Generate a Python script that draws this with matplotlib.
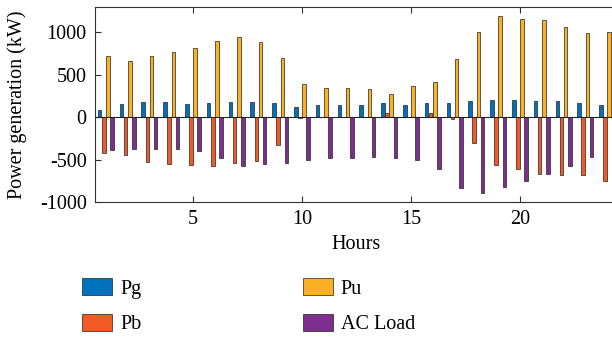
import numpy as np
import matplotlib
matplotlib.use('Agg')
import matplotlib.pyplot as plt

# datos (kW por hora)
hours = np.arange(1, 25)
pg = [82, 161, 176, 176, 157, 172, 180, 184, 169, 122, 141, 145,
      149, 165, 141, 165, 172, 196, 204, 204, 196, 196, 172, 141]
pb = [-420, -447, -529, -553, -564, -580, -545, -517, -333, -12, 0, 0,
      0, 51, 0, 47, -20, -306, -564, -615, -670, -682, -686, -753]
pu = [725, 662, 725, 764, 811, 898, 941, 890, 702, 396, 349, 341,
      333, 278, 365, 419, 690, 1003, 1196, 1164, 1149, 1066, 988, 1003]
ac_load = [-388, -376, -372, -380, -404, -486, -580, -557, -537, -510, -486, -482,
           -474, -482, -506, -615, -835, -890, -819, -753, -666, -572, -466, -384]

series = [pg, pb, pu, ac_load]
names = ['Pg', 'Pb', 'Pu', 'AC Load']
colors = ['#0072BD', '#F15A24', '#FBB121', '#7E2F8E']

plt.rcParams['font.family'] = ['Liberation Serif', 'DejaVu Serif']
plt.rcParams['axes.unicode_minus'] = False

fig = plt.figure(figsize=(6.12, 3.37), dpi=100)
# el eje se sale por la derecha como en la figura original (recortada)
ax = fig.add_axes([95/612, 1-202/337, 523/612, 195/337])

step = 0.19
width = 0.165
for i, (vals, name, col) in enumerate(zip(series, names, colors)):
    ax.bar(hours + (i - 1.5)*step, vals, width, color=col, edgecolor='#222222',
           linewidth=0.5, label=name)

ax.axhline(0, color='#222222', linewidth=0.8)

ax.set_xlim(0.5, 24.5)
ax.set_ylim(-1000, 1300)
ax.set_xticks([5, 10, 15, 20])
ax.set_yticks([-1000, -500, 0, 500, 1000])
ax.tick_params(direction='in', top=True, right=True, labelsize=14.5,
               length=4, width=0.8, pad=6, color='#333333')
for s in ax.spines.values():
    s.set_linewidth(0.8)
    s.set_color('#333333')

ax.set_xlabel('Hours', fontsize=14.5, labelpad=4)
ax.set_ylabel('Power generation (kW)', fontsize=14.5)
ax.yaxis.set_label_coords(-0.13, 0.5)

fig.legend(loc='upper left', bbox_to_anchor=(82/612, 1-278/337), ncol=2,
           frameon=False, fontsize=14.5, borderpad=0, borderaxespad=0,
           handlelength=1.5, handleheight=0.95, handletextpad=0.4,
           columnspacing=8.0, labelspacing=0.75)

fig.savefig('out.png', dpi=100)
